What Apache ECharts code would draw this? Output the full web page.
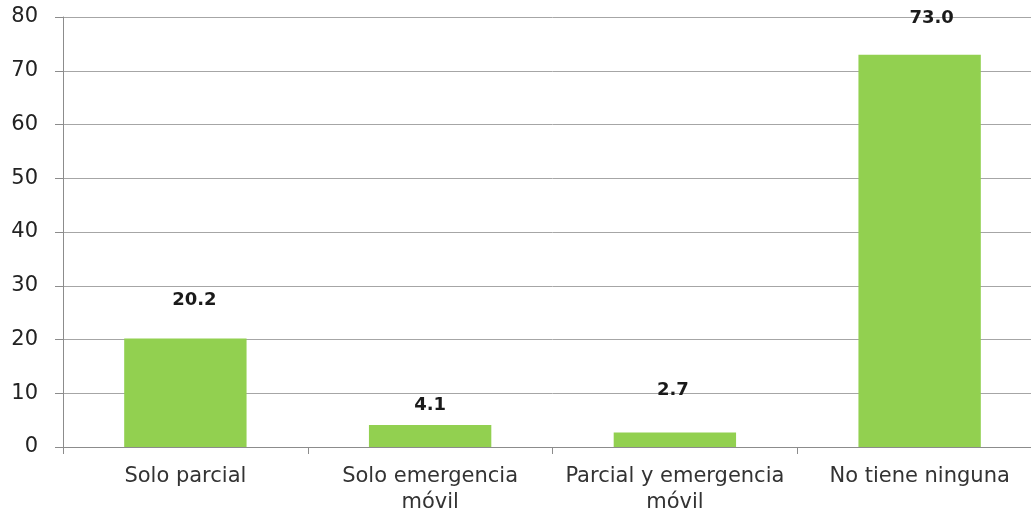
<!DOCTYPE html>
<html>
<head>
<meta charset="utf-8">
<script src="https://cdn.jsdelivr.net/npm/echarts@6/dist/echarts.min.js"></script>
<style>
  html, body { margin: 0; padding: 0; background: #fff; overflow: hidden; }
  /* the plot runs past the right edge of the picture in the original */
  #chart { width: 1042px; height: 513px; }
</style>
</head>
<body>
<div id="chart"></div>
<script>
// categories and values
const categories = ['Solo parcial', 'Solo emergencia\nmóvil', 'Parcial y emergencia\nmóvil', 'No tiene ninguna']
const values = [20.2, 4.1, 2.7, 73.0]
const yTicks = [0, 10, 20, 30, 40, 50, 60, 70, 80]

// label placement differs a bit per bar in the original
const labelGap = [29, 11, 33, 27]
const labelShift = [9, 0, -2, 12]

const chart = echarts.init(document.getElementById('chart'))

chart.setOption({
  animation: false,
  backgroundColor: '#ffffff',
  grid: { left: 63, right: 0, top: 17, bottom: 66, outerBoundsMode: 'none' },
  xAxis: {
    type: 'category',
    data: categories,
    axisLine: { lineStyle: { color: '#8c8c8c', width: 1 } },
    axisTick: { show: true, length: 7, lineStyle: { color: '#8c8c8c' } },
    axisLabel: {
      color: '#333333',
      fontFamily: 'DejaVu Sans',
      fontSize: 21,
      lineHeight: 26,
      margin: 17,
      interval: 0
    }
  },
  yAxis: {
    type: 'value',
    min: yTicks[0],
    max: yTicks[yTicks.length - 1],
    interval: 10,
    axisLine: { show: true, lineStyle: { color: '#8c8c8c', width: 1 } },
    axisTick: { show: true, length: 8, lineStyle: { color: '#8c8c8c' } },
    axisLabel: {
      color: '#222222',
      fontFamily: 'DejaVu Sans',
      fontSize: 21,
      margin: 25
    },
    splitLine: { show: true, lineStyle: { color: '#a6a6a6', width: 1 } }
  },
  series: [{
    type: 'bar',
    barWidth: '50%',
    itemStyle: { color: '#92d050' },
    data: values.map((v, i) => ({
      value: v,
      label: { distance: labelGap[i], offset: [labelShift[i], 0] }
    })),
    label: {
      show: true,
      position: 'top',
      color: '#1a1a1a',
      fontFamily: 'DejaVu Sans',
      fontWeight: 'bold',
      fontSize: 18,
      formatter: p => p.value.toFixed(1)
    }
  }]
})
</script>
</body>
</html>
